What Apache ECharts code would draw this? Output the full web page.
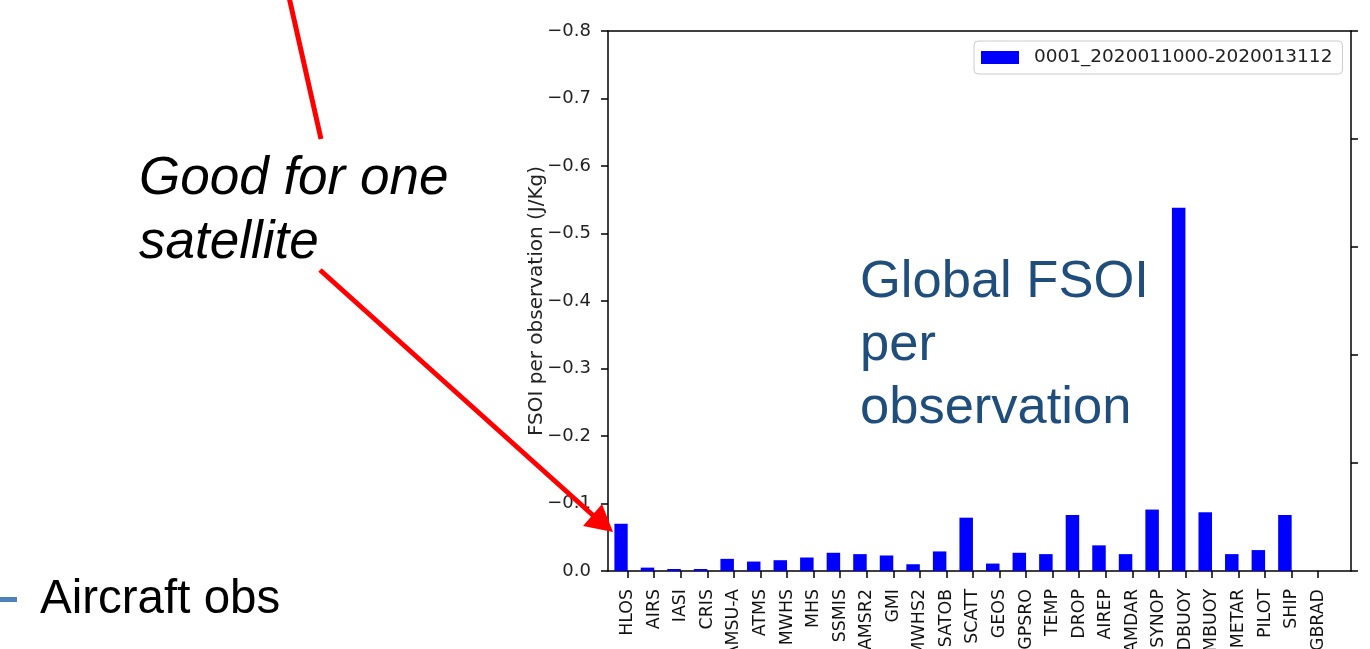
<!DOCTYPE html>
<html>
<head>
<meta charset="utf-8">
<title>Global FSOI per observation</title>
<script src="https://cdn.jsdelivr.net/npm/echarts@6/dist/echarts.min.js"></script>
<style>
  html, body { margin: 0; padding: 0; background: #ffffff; }
  #chart { width: 1370px; height: 649px; }
</style>
</head>
<body>
<div id="chart"></div>
<script>
// Observation types along the x axis
const categories = ['HLOS', 'AIRS', 'IASI', 'CRIS', 'AMSU-A', 'ATMS', 'MWHS', 'MHS', 'SSMIS',
  'AMSR2', 'GMI', 'MWHS2', 'SATOB', 'SCATT', 'GEOS', 'GPSRO', 'TEMP', 'DROP', 'AIREP',
  'AMDAR', 'SYNOP', 'DBUOY', 'MBUOY', 'METAR', 'PILOT', 'SHIP', 'GBRAD'];

// FSOI per observation (J/Kg), negative = beneficial
const fsoiPerObs = [-0.070, -0.005, -0.003, -0.003, -0.018, -0.014, -0.016, -0.020, -0.027,
  -0.025, -0.023, -0.010, -0.029, -0.079, -0.011, -0.027, -0.025, -0.083, -0.038,
  -0.025, -0.091, -0.538, -0.087, -0.025, -0.031, -0.083, 0];

const seriesName = '0001_2020011000-2020013112';

// y axis range and step
const yMin = -0.8;
const yMax = 0;
const yStep = 0.1;

const chart = echarts.init(document.getElementById('chart'), null, { renderer: 'canvas' });

const spine = { show: true, onZero: false, lineStyle: { color: '#000', width: 1.5 } };
const tickFont = 'DejaVu Sans';

const fmtTick = v => {
  const r = Math.round(v * 10) / 10;
  if (r === 0) return '0.0';
  return (r < 0 ? '\u2212' : '') + Math.abs(r).toFixed(1);
};

chart.setOption({
  backgroundColor: '#ffffff',
  animation: false,
  grid: [
    // frame (spines and y ticks)
    { left: 608, top: 31, width: 743, height: 540, containLabel: false, outerBoundsMode: 'none' },
    // bars and category ticks
    { left: 614.4, top: 31, width: 717.1, height: 540, containLabel: false, outerBoundsMode: 'none' }
  ],
  legend: {
    data: [seriesName],
    left: 974,
    top: 41,
    itemWidth: 38,
    itemHeight: 13,
    icon: 'rect',
    padding: [7, 10, 7, 7],
    backgroundColor: '#ffffff',
    borderColor: '#cccccc',
    borderWidth: 1,
    borderRadius: 4,
    textStyle: { fontFamily: tickFont, fontSize: 18.5, color: '#222', padding: [0, 0, 0, 10] }
  },
  xAxis: [
    { type: 'value', gridIndex: 0, min: 0, max: 1, position: 'bottom',
      axisLine: spine, axisTick: { show: false }, axisLabel: { show: false }, splitLine: { show: false } },
    { type: 'value', gridIndex: 0, min: 0, max: 1, position: 'top',
      axisLine: spine, axisTick: { show: false }, axisLabel: { show: false }, splitLine: { show: false } },
    { type: 'category', gridIndex: 1, data: categories, position: 'bottom',
      axisLine: { show: false, onZero: false },
      axisTick: { show: true, alignWithLabel: true, length: 7, lineStyle: { color: '#000', width: 1.5 } },
      axisLabel: { rotate: 90, interval: 0, margin: 18, color: '#111',
        fontFamily: tickFont, fontSize: 17.4 },
      splitLine: { show: false } }
  ],
  yAxis: [
    { type: 'value', gridIndex: 0, min: yMin, max: yMax, interval: yStep, inverse: true,
      position: 'left',
      axisLine: spine,
      axisTick: { show: true, length: 7, lineStyle: { color: '#000', width: 1.5 } },
      axisLabel: { margin: 17, color: '#222', fontFamily: tickFont, fontSize: 18, formatter: fmtTick },
      splitLine: { show: false },
      name: 'FSOI per observation (J/Kg)',
      nameLocation: 'middle',
      nameRotate: 90,
      nameGap: 61,
      nameMoveOverlap: false,
      nameTextStyle: { fontFamily: tickFont, fontSize: 20, color: '#222' } },
    { type: 'value', gridIndex: 0, min: 0, max: 5, interval: 1, position: 'right',
      axisLine: spine,
      axisTick: { show: true, length: 7, lineStyle: { color: '#000', width: 1.5 } },
      axisLabel: { show: false }, splitLine: { show: false } },
    { type: 'value', gridIndex: 1, min: yMin, max: yMax, interval: yStep, inverse: true, show: false }
  ],
  series: [
    { type: 'bar', name: seriesName, xAxisIndex: 2, yAxisIndex: 2, data: fsoiPerObs,
      barWidth: 13.5, barGap: '0%', itemStyle: { color: '#0000ff' } },
    // empty companion series: keeps each bar left of its tick
    { type: 'bar', name: 'companion', xAxisIndex: 2, yAxisIndex: 2,
      data: categories.map(() => '-'), barWidth: 13.5, barGap: '0%' }
  ],
  graphic: [
    // annotation arrows
    { type: 'line', z: 100, shape: { x1: 289, y1: -3, x2: 321, y2: 139 },
      style: { stroke: '#ff0000', lineWidth: 5 } },
    { type: 'line', z: 100, shape: { x1: 320, y1: 270, x2: 596, y2: 518 },
      style: { stroke: '#ff0000', lineWidth: 5 } },
    { type: 'polygon', z: 100, shape: { points: [[613, 532], [583, 526], [602, 504]] },
      style: { fill: '#ff0000' } },
    { type: 'text', z: 100, x: 139, y: 179,
      style: { text: 'Good for one', font: 'italic 53px "Liberation Sans", Arial, sans-serif',
        fill: '#000', verticalAlign: 'middle' } },
    { type: 'text', z: 100, x: 139, y: 243,
      style: { text: 'satellite', font: 'italic 53px "Liberation Sans", Arial, sans-serif',
        fill: '#000', verticalAlign: 'middle' } },
    { type: 'text', z: 100, x: 860, y: 283,
      style: { text: 'Global FSOI', font: '52.5px "Liberation Sans", Arial, sans-serif',
        fill: '#1f4e7d', verticalAlign: 'middle' } },
    { type: 'text', z: 100, x: 860, y: 346,
      style: { text: 'per', font: '52.5px "Liberation Sans", Arial, sans-serif',
        fill: '#1f4e7d', verticalAlign: 'middle' } },
    { type: 'text', z: 100, x: 860, y: 409,
      style: { text: 'observation', font: '52.5px "Liberation Sans", Arial, sans-serif',
        fill: '#1f4e7d', verticalAlign: 'middle' } },
    { type: 'rect', z: 100, shape: { x: 0, y: 597, width: 17, height: 5 },
      style: { fill: '#4f81bd' } },
    { type: 'text', z: 100, x: 40, y: 600,
      style: { text: 'Aircraft obs', font: '47.5px "Liberation Sans", Arial, sans-serif',
        fill: '#000', verticalAlign: 'middle' } }
  ]
});
</script>
</body>
</html>
